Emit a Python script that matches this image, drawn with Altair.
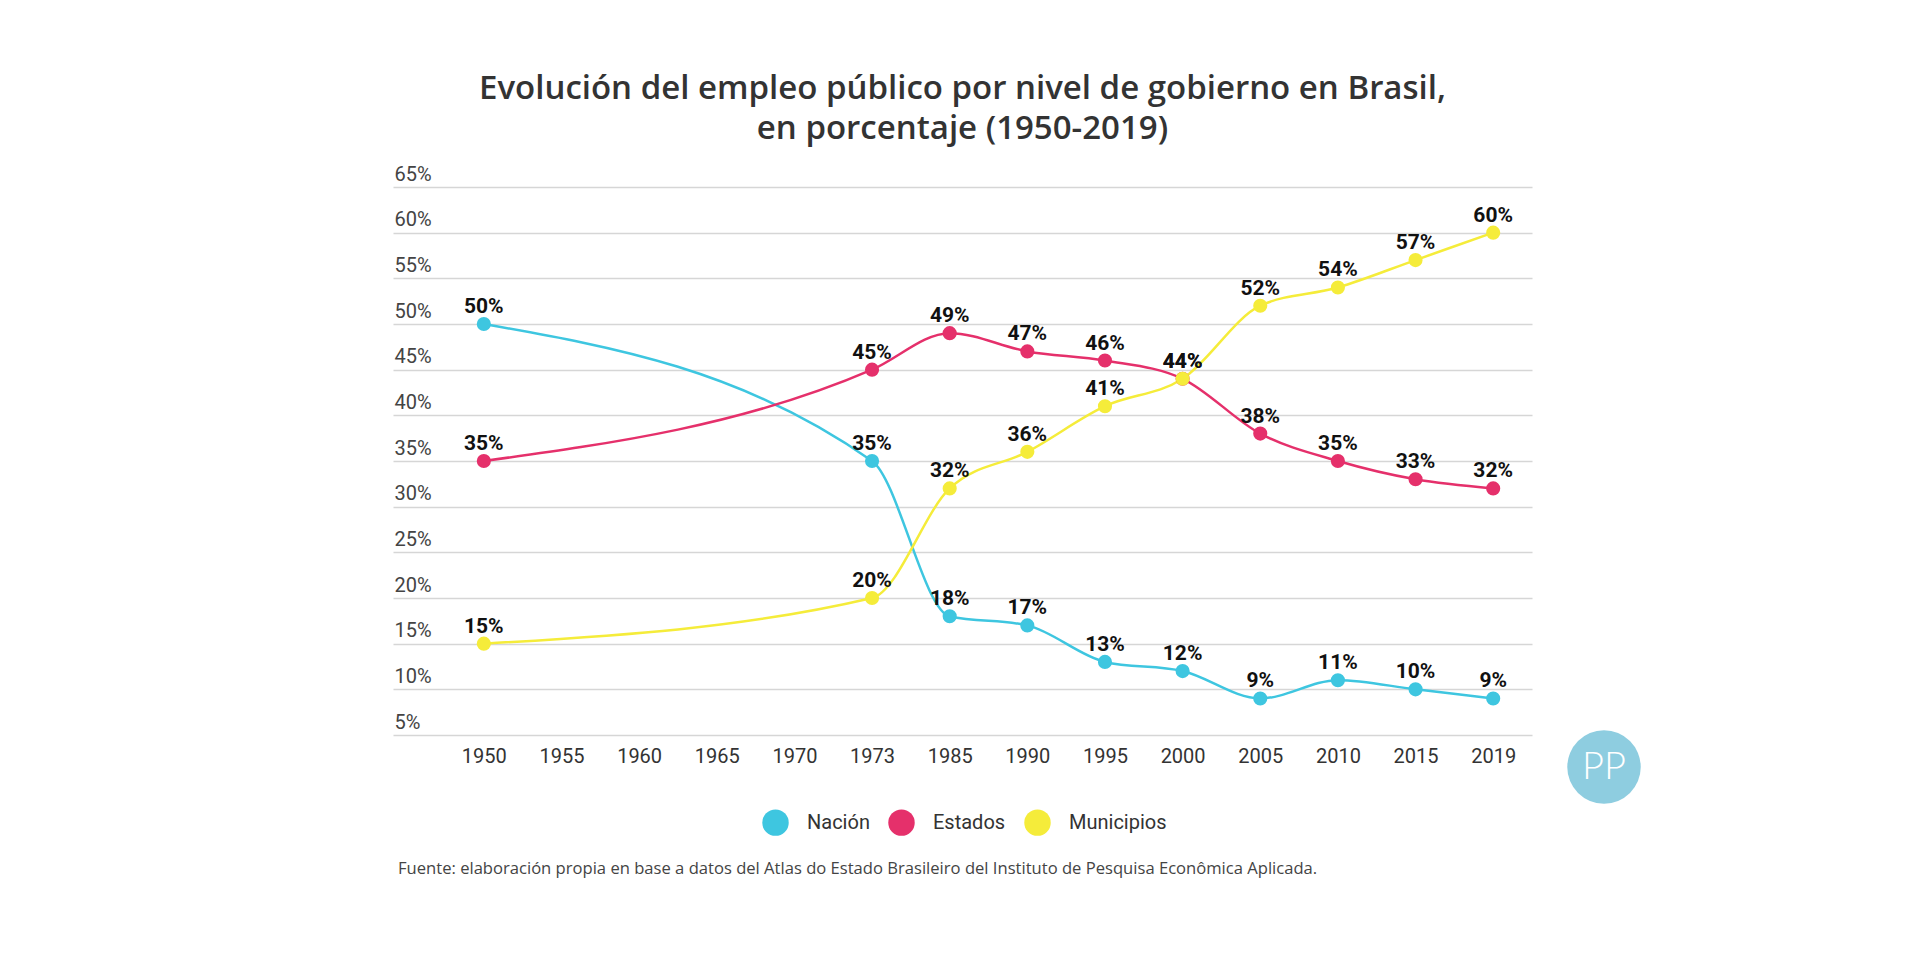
import altair as alt
import pandas as pd

year_labels = ["1950", "1955", "1960", "1965", "1970", "1973", "1985",
               "1990", "1995", "2000", "2005", "2010", "2015", "2019"]
data_years = ["1950", "1973", "1985", "1990", "1995", "2000", "2005", "2010", "2015", "2019"]
series_names = ["Nación", "Estados", "Municipios"]
nacion = [50, 35, 18, 17, 13, 12, 9, 11, 10, 9]
estados = [35, 45, 49, 47, 46, 44, 38, 35, 33, 32]
municipios = [15, 20, 32, 36, 41, 44, 52, 54, 57, 60]
colors = ["#3ec6e0", "#e5306b", "#f5ec3a"]
y_ticks = [5, 10, 15, 20, 25, 30, 35, 40, 45, 50, 55, 60, 65]

rows = []
for name, vals in zip(series_names, [nacion, estados, municipios]):
    for yr, v in zip(data_years, vals):
        rows.append({"serie": name, "idx": year_labels.index(yr), "year": yr,
                     "valor": v, "label": f"{v}%", "order": series_names.index(name)})
df = pd.DataFrame(rows)

W, H = 1139, 548
label_arr = "[" + ",".join(f"'{y}'" for y in year_labels) + "]"

x_enc = alt.X("idx:Q",
              scale=alt.Scale(domain=[-1.17, 13.5], nice=False, zero=False),
              axis=alt.Axis(values=list(range(len(year_labels))),
                            labelExpr=f"{label_arr}[datum.value]",
                            title=None, grid=False, domain=False, ticks=False,
                            labelFont="Roboto", labelFontSize=20, labelColor="#333",
                            labelPadding=11))
y_enc = alt.Y("valor:Q",
              scale=alt.Scale(domain=[5, 65], nice=False, zero=False),
              axis=alt.Axis(values=y_ticks, labelExpr="datum.value + '%'",
                            title=None, domain=False, ticks=False, tickSize=0,
                            labelAlign="left", labelBaseline="alphabetic",
                            labelOffset=-7, labelPadding=-1,
                            labelFont="Roboto", labelFontSize=20, labelColor="#444",
                            grid=True, gridColor="#d6d6d6", gridWidth=1.5))
color_enc = alt.Color("serie:N",
                      scale=alt.Scale(domain=series_names, range=colors),
                      legend=alt.Legend(title=None, orient="none", direction="horizontal",
                                        legendX=369, legendY=622,
                                        symbolType="circle", symbolSize=700,
                                        symbolStrokeWidth=0, symbolOpacity=1,
                                        labelFont="Roboto", labelFontSize=20,
                                        labelColor="#333", labelOffset=18,
                                        columnPadding=18))

base = alt.Chart(df)

lines = base.mark_line(interpolate="monotone", strokeWidth=2.5).encode(
    x=x_enc, y=y_enc, color=color_enc, detail="serie:N", order="idx:Q")
points = base.mark_circle(size=200, opacity=1).encode(
    x="idx:Q", y="valor:Q",
    color=alt.Color("serie:N", scale=alt.Scale(domain=series_names, range=colors), legend=None),
    order="order:Q")
labels = base.mark_text(dy=-17, font="Roboto", fontSize=21, fontWeight="bold",
                        color="#111").encode(x="idx:Q", y="valor:Q", text="label:N")

footer = alt.Chart(pd.DataFrame({"t": ["Fuente: elaboración propia en base a datos del Atlas do Estado Brasileiro del Instituto de Pesquisa Econômica Aplicada."]})).mark_text(
    align="left", baseline="middle", font="Open Sans", fontSize=16.6, color="#444"
).encode(x=alt.value(5), y=alt.value(682), text="t:N")

logo_df = pd.DataFrame({"t": ["PP"]})
logo_circle = alt.Chart(logo_df).mark_circle(size=5400, color="#8ecde0", opacity=1).encode(
    x=alt.value(1211), y=alt.value(580))
logo_text = alt.Chart(logo_df).mark_text(font="Lato", fontSize=38, fontWeight=300,
                                         color="white", baseline="middle").encode(
    x=alt.value(1211), y=alt.value(581), text="t:N")

chart = alt.layer(lines, points, labels, footer, logo_circle, logo_text).properties(
    width=W, height=H,
    background="white",
    autosize=alt.AutoSizeParams(type="none"),
    padding={"left": 393, "top": 187, "right": 388, "bottom": 225},
    title=alt.TitleParams(
        text=["Evolución del empleo público por nivel de gobierno en Brasil,",
              "en porcentaje (1950-2019)"],
        font="Open Sans", fontSize=33, fontWeight=600, color="#333",
        lineHeight=40, anchor="middle", offset=18),
).configure_view(stroke=None, strokeWidth=0)

chart.save("out.html", embed_options={"renderer": "svg", "actions": False})
